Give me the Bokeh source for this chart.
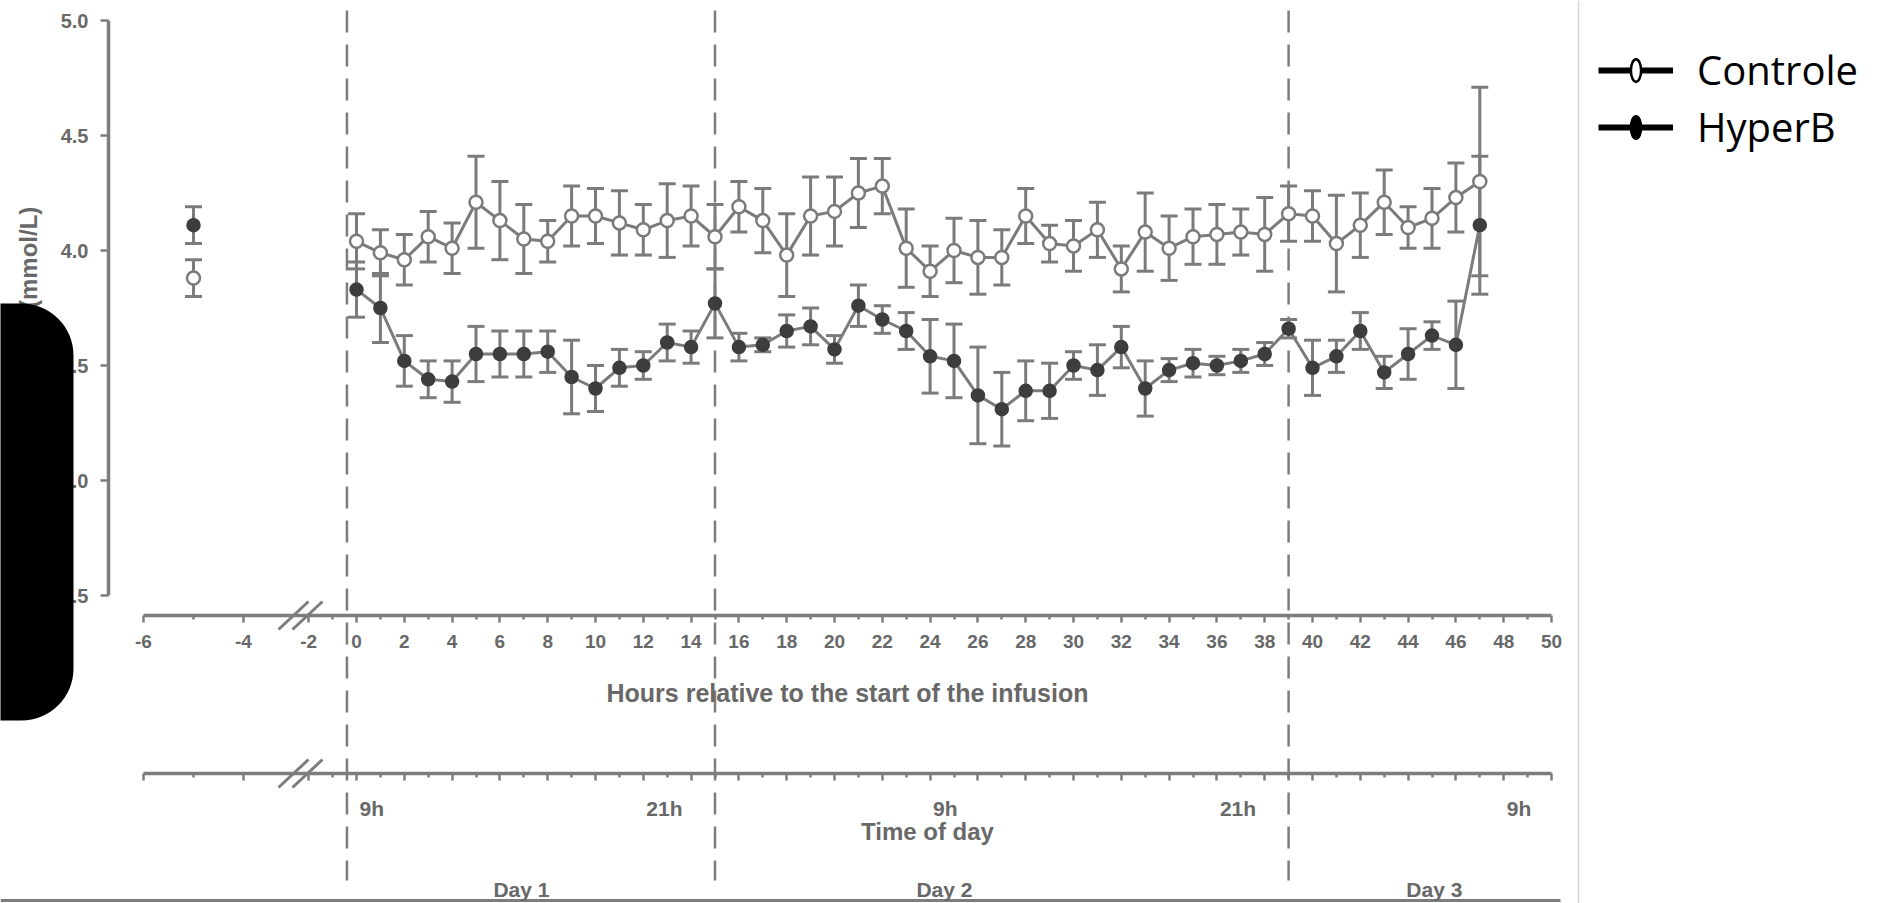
import math
from bokeh.plotting import figure
from bokeh.models import (ColumnDataSource, Range1d, LinearAxis, FixedTicker, Whisker, TeeHead,
                          Legend, LegendItem, Span, BoxAnnotation)
from bokeh.embed import file_html
from bokeh.resources import INLINE
from bokeh.core.properties import value

# ---------------- data ----------------
hours = list(range(48))
ctrl_mean = [4.04, 3.99, 3.96, 4.06, 4.01, 4.21, 4.13, 4.05, 4.04, 4.15,
             4.15, 4.12, 4.09, 4.13, 4.15, 4.06, 4.19, 4.13, 3.98, 4.15,
             4.17, 4.25, 4.28, 4.01, 3.91, 4.00, 3.97, 3.97, 4.15, 4.03,
             4.02, 4.09, 3.92, 4.08, 4.01, 4.06, 4.07, 4.08, 4.07, 4.16,
             4.15, 4.03, 4.11, 4.21, 4.10, 4.14, 4.23, 4.30]
ctrl_se = [0.12, 0.10, 0.11, 0.11, 0.11, 0.20, 0.17, 0.15, 0.09, 0.13,
           0.12, 0.14, 0.11, 0.16, 0.13, 0.14, 0.11, 0.14, 0.18, 0.17,
           0.15, 0.15, 0.12, 0.17, 0.11, 0.14, 0.16, 0.12, 0.12, 0.08,
           0.11, 0.12, 0.10, 0.17, 0.14, 0.12, 0.13, 0.10, 0.16, 0.12,
           0.11, 0.21, 0.14, 0.14, 0.09, 0.13, 0.15, 0.41]
hyper_mean = [3.83, 3.75, 3.52, 3.44, 3.43, 3.55, 3.55, 3.55, 3.56, 3.45,
              3.40, 3.49, 3.50, 3.60, 3.58, 3.77, 3.58, 3.59, 3.65, 3.67,
              3.57, 3.76, 3.70, 3.65, 3.54, 3.52, 3.37, 3.31, 3.39, 3.39,
              3.50, 3.48, 3.58, 3.40, 3.48, 3.51, 3.50, 3.52, 3.55, 3.66,
              3.49, 3.54, 3.65, 3.47, 3.55, 3.63, 3.59, 4.11]
hyper_se = [0.12, 0.15, 0.11, 0.08, 0.09, 0.12, 0.10, 0.10, 0.09, 0.16,
            0.10, 0.08, 0.06, 0.08, 0.07, 0.15, 0.06, 0.03, 0.07, 0.08,
            0.06, 0.09, 0.06, 0.08, 0.16, 0.16, 0.21, 0.16, 0.13, 0.12,
            0.06, 0.11, 0.09, 0.12, 0.05, 0.06, 0.04, 0.05, 0.05, 0.04,
            0.12, 0.07, 0.08, 0.07, 0.11, 0.06, 0.19, 0.30]
baseline_hour = [-5]
baseline_ctrl_mean = [3.88]
baseline_ctrl_se = [0.08]
baseline_hyper_mean = [4.11]
baseline_hyper_se = [0.08]

hour_major_ticks = [-6, -4, -2] + list(range(0, 51, 2))
hour_major_labels = [str(h) for h in hour_major_ticks]
hour_minor_ticks = [-5, -1] + list(range(1, 50, 2))
tod_hours = [0, 12, 24, 36, 48]
tod_labels = ["9h", "21h", "9h", "21h", "9h"]
midnight_hours = [-0.4, 15, 39]
day_label_hours = [6.9, 24.6, 45.1]
day_labels = ["Day 1", "Day 2", "Day 3"]
y_ticks = [2.5, 3.0, 3.5, 4.0, 4.5, 5.0]
y_tick_labels = ["2.5", "3.0", "3.5", "4.0", "4.5", "5.0"]
series_names = ["Controle", "HyperB"]

# ---------------- layout helpers ----------------
W, H = 1888, 903
X0_PX, PX_PER_H = 356.0, 23.9
Y4_PX, PX_PER_UNIT = 250.0, 230.0
X_START, X_END = -X0_PX / PX_PER_H, (W - X0_PX) / PX_PER_H
Y_START, Y_END = 4 - (H - Y4_PX) / PX_PER_UNIT, 4 + Y4_PX / PX_PER_UNIT


def px_to_x(px):
    return X_START + px * (X_END - X_START) / W


def py_to_y(py):
    return Y_END - py * (Y_END - Y_START) / H


def disp(h):
    # broken axis: the pre-infusion segment is drawn on a stretched scale
    return h if h > -3 else 3.64 + 2.092 * h


GRAY = "#7b7b7b"
AXIS_GRAY = "#7d7d7d"
DARK = "#3d3d3d"
TEXT = "#686868"
FONT = "Liberation Sans"

p = figure(width=W, height=H, x_range=Range1d(X_START, X_END), y_range=Range1d(Y_START, Y_END),
           x_axis_type=None, y_axis_type=None, toolbar_location=None, output_backend="svg",
           min_border=0)
p.outline_line_color = None
p.background_fill_color = "white"
p.border_fill_color = "white"

# ---------------- sources ----------------
def make_src(xs, means, ses):
    return ColumnDataSource(dict(x=[disp(h) for h in xs], y=means,
                                 lo=[m - s for m, s in zip(means, ses)],
                                 hi=[m + s for m, s in zip(means, ses)]))

src_c = make_src(hours, ctrl_mean, ctrl_se)
src_h = make_src(hours, hyper_mean, hyper_se)
src_cb = make_src(baseline_hour, baseline_ctrl_mean, baseline_ctrl_se)
src_hb = make_src(baseline_hour, baseline_hyper_mean, baseline_hyper_se)

# dashed day separators
top_v, bot_v = py_to_y(10), py_to_y(880)
p.segment(x0=[disp(h) for h in midnight_hours], y0=top_v, x1=[disp(h) for h in midnight_hours], y1=bot_v,
          line_color=AXIS_GRAY, line_width=2.5, line_dash="22 12")

for src in (src_c, src_h, src_cb, src_hb):
    w = Whisker(base="x", upper="hi", lower="lo", source=src, dimension="height",
                line_color=GRAY, line_width=3,
                upper_head=TeeHead(size=17, line_color=GRAY, line_width=3),
                lower_head=TeeHead(size=17, line_color=GRAY, line_width=3))
    p.add_layout(w)

p.line("x", "y", source=src_c, line_color=GRAY, line_width=3)
p.line("x", "y", source=src_h, line_color=GRAY, line_width=3)
for s in (src_c, src_cb):
    p.scatter("x", "y", source=s, marker="circle", size=13, fill_color="white",
              line_color=GRAY, line_width=2.5)
for s in (src_h, src_hb):
    p.scatter("x", "y", source=s, marker="circle", size=13, fill_color=DARK,
              line_color=DARK, line_width=1.5)

# ---------------- axes ----------------
def style_axis(ax, label_size="19px"):
    ax.axis_line_color = AXIS_GRAY
    ax.axis_line_width = 3.5
    ax.major_tick_line_color = AXIS_GRAY
    ax.major_tick_line_width = 2.5
    ax.major_tick_in = 0
    ax.major_tick_out = 7
    ax.minor_tick_line_color = AXIS_GRAY
    ax.minor_tick_line_width = 2.5
    ax.minor_tick_in = 0
    ax.minor_tick_out = 4
    ax.major_label_text_font = FONT
    ax.major_label_text_font_size = label_size
    ax.major_label_text_font_style = "bold"
    ax.major_label_text_color = TEXT
    ax.axis_label_text_font = FONT
    ax.axis_label_text_font_style = "bold"
    ax.axis_label_text_color = TEXT


major_disp = [disp(h) for h in hour_major_ticks]
minor_disp = [disp(h) for h in hour_minor_ticks]
hour_bounds = (disp(-6), 50)

hours_axis = LinearAxis(fixed_location=py_to_y(615), bounds=hour_bounds,
                        ticker=FixedTicker(ticks=major_disp, minor_ticks=minor_disp),
                        major_label_overrides={d: lab for d, lab in zip(major_disp, hour_major_labels)},
                        axis_label="Hours relative to the start of the infusion")
style_axis(hours_axis)
hours_axis.major_label_standoff = 12
hours_axis.axis_label_standoff = 28
hours_axis.axis_label_text_font_size = "25px"
p.add_layout(hours_axis, "below")

tod_axis = LinearAxis(fixed_location=py_to_y(773), bounds=hour_bounds,
                      ticker=FixedTicker(ticks=major_disp, minor_ticks=minor_disp))
style_axis(tod_axis)
tod_axis.major_label_text_color = None
p.add_layout(tod_axis, "below")

day_axis = LinearAxis(fixed_location=py_to_y(900), bounds=(X_START, px_to_x(1560)),
                      ticker=FixedTicker(ticks=day_label_hours, minor_ticks=[]),
                      major_label_overrides={d: lab for d, lab in zip(day_label_hours, day_labels)})
style_axis(day_axis, "21px")
day_axis.axis_line_width = 3
day_axis.major_tick_out = 0
day_axis.major_label_standoff = 0
p.add_layout(day_axis, "above")

y_axis = LinearAxis(fixed_location=px_to_x(108), bounds=(2.5, 5.0),
                    ticker=FixedTicker(ticks=y_ticks, minor_ticks=[]),
                    major_label_overrides={t: lab for t, lab in zip(y_ticks, y_tick_labels)},
                    axis_label="Glucose (mmol/L)")
style_axis(y_axis, "20px")
y_axis.major_tick_out = 8
y_axis.major_label_standoff = 12
y_axis.axis_label_standoff = 16
y_axis.axis_label_text_font_size = "24px"
p.add_layout(y_axis, "left")

# axis break marks "//"
for axis_py in (615, 773):
    xs0, ys0, xs1, ys1 = [], [], [], []
    for cx in (293, 307):
        xs0.append(px_to_x(cx - 15)); ys0.append(py_to_y(axis_py + 14))
        xs1.append(px_to_x(cx + 15)); ys1.append(py_to_y(axis_py - 14))
    p.segment(x0=xs0, y0=ys0, x1=xs1, y1=ys1, line_color=AXIS_GRAY, line_width=3)

# time-of-day labels
p.text(x=[disp(h) for h in tod_hours], y=py_to_y(808), text=tod_labels, text_align="left",
       text_baseline="middle", x_offset=3, text_font=value(FONT), text_font_size="21px",
       text_font_style="bold", text_color=TEXT)
p.text(x=[px_to_x(927)], y=[py_to_y(831)], text=["Time of day"], text_align="center",
       text_baseline="middle", text_font=value(FONT), text_font_size="24px",
       text_font_style="bold", text_color=TEXT)

# right border line
p.add_layout(Span(location=px_to_x(1578), dimension="height", line_color="#d6d6d6", line_width=1.5))

# redaction block
p.add_layout(BoxAnnotation(left=px_to_x(-120), right=px_to_x(73), top=py_to_y(303), bottom=py_to_y(720),
                           fill_color="black", fill_alpha=1.0, line_color=None, border_radius=52))

# ---------------- legend ----------------
nan = float("nan")
l1 = p.line(x=[nan], y=[nan], line_color="black", line_width=6)
e1 = p.ellipse(x=[nan], y=[nan], width=10, height=22, width_units="screen", height_units="screen",
               fill_color="white", line_color="black", line_width=2.5)
l2 = p.line(x=[nan], y=[nan], line_color="black", line_width=6)
e2 = p.ellipse(x=[nan], y=[nan], width=10, height=22, width_units="screen", height_units="screen",
               fill_color="black", line_color="black", line_width=2.5)
legend = Legend(items=[LegendItem(label=series_names[0], renderers=[l1, e1]),
                       LegendItem(label=series_names[1], renderers=[l2, e2])],
                location=(1598, 903 - 154), padding=0, margin=0, spacing=2,
                glyph_width=75, glyph_height=28, label_standoff=24,
                label_text_font="Open Sans", label_text_font_size="40px", label_text_color="black",
                border_line_color=None, background_fill_alpha=0)
p.add_layout(legend)

open("out.html", "w").write(file_html(p, INLINE))
